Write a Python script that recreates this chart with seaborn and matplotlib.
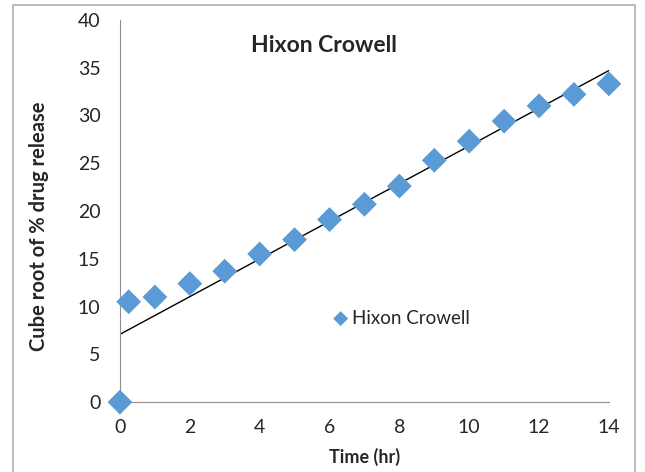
import numpy as np
import pandas as pd
import matplotlib
matplotlib.use("Agg")
import matplotlib.pyplot as plt
import seaborn as sns
from matplotlib.patches import Rectangle

# Veri
zaman = [0, 0.25, 1, 2, 3, 4, 5, 6, 7, 8, 9, 10, 11, 12, 13, 14]
kup_kok = [0, 10.5, 11.0, 12.4, 13.7, 15.5, 17.0, 19.1, 20.7, 22.6, 25.3, 27.3, 29.4, 31.0, 32.2, 33.3]
x_ticks = [0, 2, 4, 6, 8, 10, 12, 14]
y_ticks = [0, 5, 10, 15, 20, 25, 30, 35, 40]

data = pd.DataFrame({"zaman": zaman, "kup_kok": kup_kok})

sns.set_style("white")
plt.rcParams["font.family"] = ["Lato", "DejaVu Sans"]

fig = plt.figure(figsize=(6.45, 4.72), dpi=100)
ax = fig.add_axes([0.186, 0.148, 0.758, 0.81])

# cerceve
fig.patches.append(Rectangle((0.02, -0.02), 0.965, 1.01, transform=fig.transFigure,
                             fill=False, edgecolor="#b0b0b0", linewidth=1.2))

sns.regplot(x="zaman", y="kup_kok", data=data, ci=None, scatter=False,
            line_kws={"color": "black", "linewidth": 1.0}, ax=ax)
sns.scatterplot(x="zaman", y="kup_kok", data=data, marker="D", s=160,
                color="#5B9BD5", edgecolor="none", label="Hixon Crowell", ax=ax,
                clip_on=False, zorder=3)

ax.set_xlim(0, 14)
ax.set_ylim(0, 40)
ax.set_xticks(x_ticks)
ax.set_yticks(y_ticks)
ax.tick_params(axis="both", labelsize=14, length=0, pad=14)
ax.tick_params(axis="x", pad=12)
for sp in ["top", "right"]:
    ax.spines[sp].set_visible(False)
for sp in ["left", "bottom"]:
    ax.spines[sp].set_color("#909090")
    ax.spines[sp].set_linewidth(0.8)

ax.set_title("Hixon Crowell", fontsize=16.5, fontweight="bold", x=0.418, y=0.895)
ax.set_xlabel("Time (hr)", fontsize=13, fontweight="bold", labelpad=9)
ax.set_ylabel("Cube root of % drug release", fontsize=14.5, fontweight="bold")
ax.yaxis.set_label_coords(-0.145, 0.46)

leg = ax.legend(loc="center", bbox_to_anchor=(0.572, 0.22), frameon=False,
                fontsize=13.5, handletextpad=0.0, handlelength=1.2, markerscale=0.6)

fig.savefig("out.png", dpi=100)
